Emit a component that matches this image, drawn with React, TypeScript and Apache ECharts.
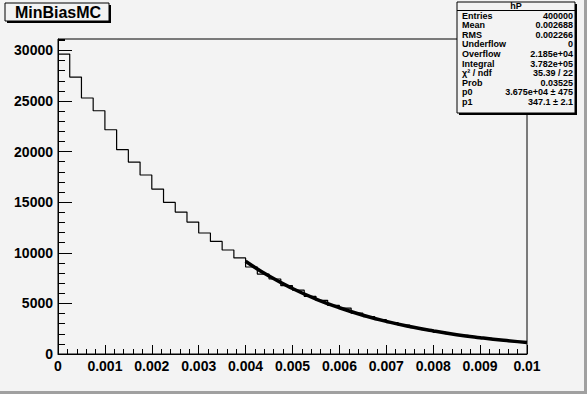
import React, { useEffect, useRef } from "react";
import * as echarts from "echarts";

const binWidth = 0.00025;
const binCounts = [
  29640, 27370, 25300, 24040, 22160, 20190, 18970, 17690, 16300, 14980,
  14030, 13040, 11960, 11130, 10280, 9490, 8600, 7900, 7410, 6750,
  6310, 5700, 5300, 4800, 4540, 4030, 3700, 3390, 3110, 2850,
  2610, 2400, 2190, 2010, 1840, 1690, 1550, 1420, 1300, 1190,
];
const fitX = [0.004, 0.0045, 0.005, 0.0055, 0.006, 0.0065, 0.007, 0.0075, 0.008, 0.0085, 0.009, 0.0095, 0.01];
const fitY = [9170, 7700, 6470, 5430, 4570, 3840, 3220, 2710, 2280, 1910, 1610, 1350, 1140];

const titleText = "MinBiasMC";
const statsTitle = "hP";
const statsLabels = ["Entries", "Mean", "RMS", "Underflow", "Overflow", "Integral", "χ² / ndf", "Prob", "p0", "p1"];
const statsValues = ["400000", "0.002688", "0.002266", "0", "2.185e+04", "3.782e+05", "35.39 / 22", "0.03525", "3.675e+04 ± 475", "347.1 ± 2.1"];

const X_MIN = 0;
const X_MAX = 0.01;
const Y_MAX = 31130;

export default function App() {
  const ref = useRef<HTMLDivElement>(null);
  useEffect(() => {
    document.body.style.margin = "0";
    const chart = echarts.init(ref.current!, null, { renderer: "svg" });
    const hist: number[][] = binCounts.map((c, i) => [i * binWidth, c]);
    hist.push([X_MAX, binCounts[binCounts.length - 1]]);
    const fit = fitX.map((x, i) => [x, fitY[i]]);
    const font = "'Liberation Sans', Arial, Helvetica, sans-serif";

    const bx = 457, by = 2, bw = 118, bh = 111;
    const rowTop = 15.8, rowStep = 9.54;
    const statsEls: any[] = [];
    statsLabels.forEach((l, i) => {
      statsEls.push({
        type: "text", z: 102, x: bx + 5, y: by + rowTop + i * rowStep - 2,
        style: { text: l, fill: "#000", font: `bold 9px ${font}`, textAlign: "left", textVerticalAlign: "middle" },
      });
      statsEls.push({
        type: "text", z: 102, x: bx + bw - 2, y: by + rowTop + i * rowStep - 2,
        style: { text: statsValues[i], fill: "#000", font: `bold 9px ${font}`, textAlign: "right", textVerticalAlign: "middle" },
      });
    });

    chart.setOption({
      animation: false,
      backgroundColor: "#f3f3f3",
      grid: { left: 58, top: 39, width: 469, height: 315, show: true, borderColor: "#000", borderWidth: 1, backgroundColor: "transparent" },
      xAxis: {
        type: "value", min: X_MIN, max: X_MAX, interval: 0.001,
        axisLine: { lineStyle: { color: "#000", width: 1 } },
        axisTick: { inside: true, length: 9, lineStyle: { color: "#000" } },
        minorTick: { show: true, splitNumber: 5, length: 5, lineStyle: { color: "#000" } },
        splitLine: { show: false },
        axisLabel: {
          color: "#000", fontFamily: font, fontWeight: "bold", fontSize: 14, margin: 5,
          formatter: (v: number) => String(+v.toFixed(4)),
        },
      },
      yAxis: [
        {
          type: "value", min: 0, max: Y_MAX, interval: 5000, position: "left",
          axisLine: { show: true, lineStyle: { color: "#000", width: 1 } },
          axisTick: { inside: true, length: 14, lineStyle: { color: "#000" } },
          splitLine: { show: false },
          axisLabel: {
            color: "#000", fontFamily: font, fontWeight: "bold", fontSize: 14, margin: 5, showMaxLabel: false,
            formatter: (v: number) => String(Math.round(v)),
          },
        },
        {
          type: "value", min: 0, max: Y_MAX, interval: 1000, position: "left", offset: 0,
          axisLine: { show: false },
          axisTick: { inside: true, length: 7, lineStyle: { color: "#000" } },
          splitLine: { show: false },
          axisLabel: { show: false },
        },
      ],
      series: [
        {
          type: "line", step: "end", data: hist, yAxisIndex: 0, symbol: "none",
          lineStyle: { color: "#000", width: 1.2 }, z: 3,
        },
        {
          type: "line", smooth: true, data: fit, yAxisIndex: 0, symbol: "none",
          lineStyle: { color: "#000", width: 3.5 }, z: 4,
        },
      ],
      graphic: [
        { type: "rect", z: 100, shape: { x: 584, y: 0, width: 3, height: 394 }, style: { fill: "#a0a0a0" } },
        { type: "rect", z: 100, shape: { x: 0, y: 391, width: 587, height: 3 }, style: { fill: "#a0a0a0" } },
        // title box
        { type: "rect", z: 100, shape: { x: 7, y: 5, width: 104, height: 18 }, style: { fill: "#000" } },
        { type: "rect", z: 101, shape: { x: 5, y: 3, width: 104, height: 18 }, style: { fill: "#f3f3f3", stroke: "#000", lineWidth: 1 } },
        { type: "text", z: 102, x: 58, y: 12.5, style: { text: titleText, fill: "#000", font: `bold 16px ${font}`, textAlign: "center", textVerticalAlign: "middle" } },
        // stats box
        { type: "rect", z: 100, shape: { x: bx + 2, y: by + 2, width: bw, height: bh }, style: { fill: "#000" } },
        { type: "rect", z: 101, shape: { x: bx, y: by, width: bw, height: bh }, style: { fill: "#f3f3f3", stroke: "#000", lineWidth: 1 } },
        { type: "line", z: 102, shape: { x1: bx, y1: 10.5, x2: bx + bw, y2: 10.5 }, style: { stroke: "#000", lineWidth: 1 } },
        { type: "text", z: 102, x: bx + bw / 2, y: 6.3, style: { text: statsTitle, fill: "#000", font: `bold 9px ${font}`, textAlign: "center", textVerticalAlign: "middle" } },
        ...statsEls,
      ],
    });
    return () => chart.dispose();
  }, []);
  return <div ref={ref} style={{ width: 587, height: 394 }} />;
}
